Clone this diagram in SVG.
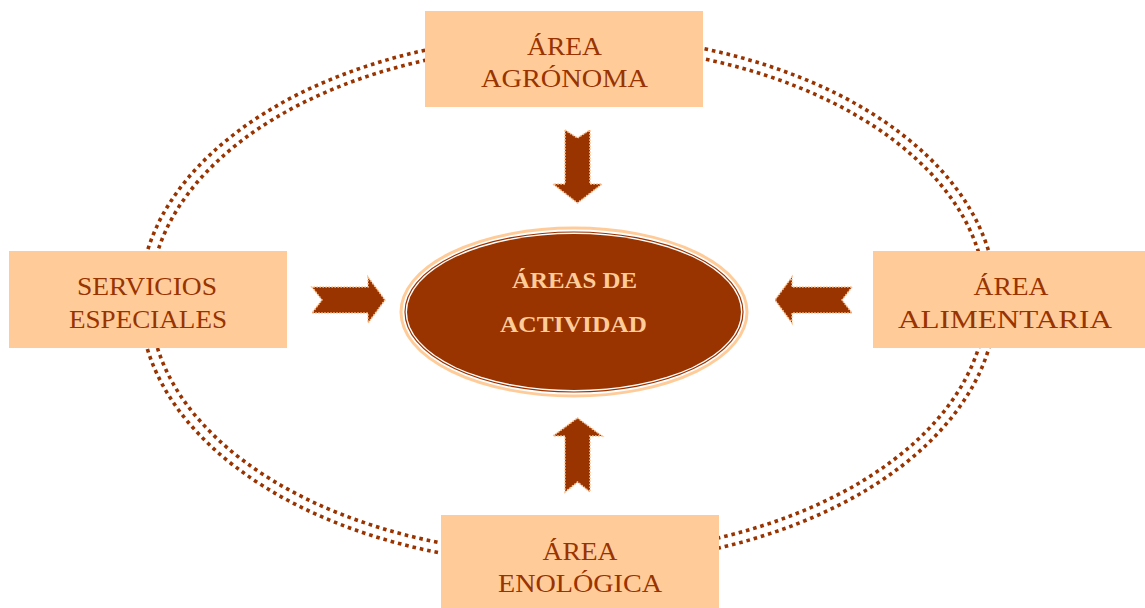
<svg xmlns="http://www.w3.org/2000/svg" width="1145" height="608" viewBox="0 0 1145 608">
<style>
.ring{fill:none;stroke:#993300;stroke-width:3.6;stroke-dasharray:3.6 3.9}
.box{fill:#FFCC99}
.lbl{font-family:"Liberation Serif","Times New Roman",serif;font-size:25px;fill:#993300;text-anchor:middle}
.clbl{font-family:"Liberation Serif","Times New Roman",serif;font-size:23px;font-weight:bold;fill:#FFCC99;text-anchor:middle}
.arrow{fill:#993300;stroke:#FFC08C;stroke-width:1.6;stroke-dasharray:1.6 1.4}
</style>
<rect width="1145" height="608" fill="#FFFFFF"/>
<g id="connectors">
  <ellipse class="ring" cx="568" cy="300" rx="428" ry="265"/>
  <ellipse class="ring" cx="568" cy="300" rx="418" ry="255"/>
  <path class="arrow" d="M565,130 L577.5,138 L590,130 L590,184 L602,184 L577.5,203 L553,184 L565,184 Z"/>
  <path class="arrow" d="M565,492 L577.5,482 L590,492 L590,436 L602,436 L577.5,418 L553,436 L565,436 Z"/>
  <path class="arrow" d="M312,287 L322,300 L312,313 L368,313 L368,323 L385,300 L368,277 L368,287 Z"/>
  <path class="arrow" d="M852,287 L842,300 L852,313 L792,313 L792,323 L775,300 L792,277 L792,287 Z"/>
</g>
<g id="center">
  <ellipse cx="574" cy="312" rx="173" ry="84" fill="#FFFFFF" stroke="#FFCC99" stroke-width="3"/>
  <ellipse cx="574" cy="312" rx="169" ry="80" fill="none" stroke="#993300" stroke-width="1.2"/>
  <ellipse cx="574" cy="312" rx="167" ry="78" fill="#993300"/>
  <text class="clbl" x="574.5" y="288" textLength="125" lengthAdjust="spacingAndGlyphs">ÁREAS DE</text>
  <text class="clbl" x="573.5" y="332" textLength="147" lengthAdjust="spacingAndGlyphs">ACTIVIDAD</text>
</g>
<g id="top">
  <rect class="box" x="425" y="11" width="278" height="96"/>
  <text class="lbl" x="564.5" y="55" textLength="75" lengthAdjust="spacingAndGlyphs">ÁREA</text>
  <text class="lbl" x="564.5" y="87" textLength="167" lengthAdjust="spacingAndGlyphs">AGRÓNOMA</text>
</g>
<g id="left">
  <rect class="box" x="9" y="251" width="278" height="97"/>
  <text class="lbl" x="147" y="295" textLength="140" lengthAdjust="spacingAndGlyphs">SERVICIOS</text>
  <text class="lbl" x="148" y="328" textLength="158" lengthAdjust="spacingAndGlyphs">ESPECIALES</text>
</g>
<g id="right">
  <rect class="box" x="873" y="251" width="272" height="97"/>
  <text class="lbl" x="1011" y="295" textLength="75" lengthAdjust="spacingAndGlyphs">ÁREA</text>
  <text class="lbl" x="1005" y="328" textLength="214" lengthAdjust="spacingAndGlyphs">ALIMENTARIA</text>
</g>
<g id="bottom">
  <rect class="box" x="441" y="515" width="278" height="93"/>
  <text class="lbl" x="580" y="560" textLength="75" lengthAdjust="spacingAndGlyphs">ÁREA</text>
  <text class="lbl" x="580" y="592" textLength="164" lengthAdjust="spacingAndGlyphs">ENOLÓGICA</text>
</g>
</svg>
